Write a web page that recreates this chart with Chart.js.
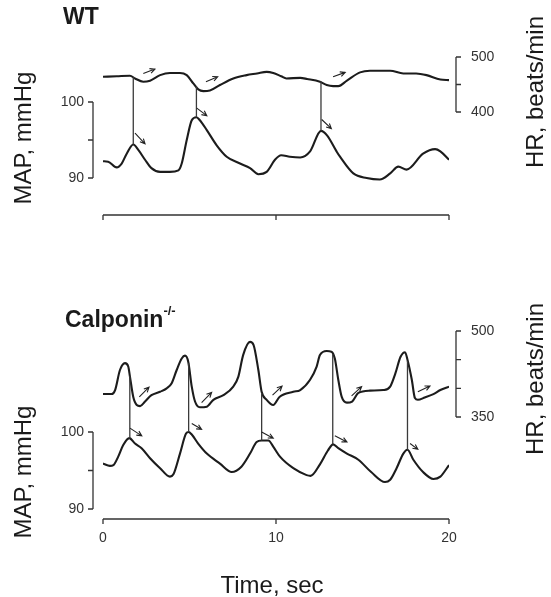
<!DOCTYPE html>
<html>
<head>
<meta charset="utf-8">
<script src="https://cdn.jsdelivr.net/npm/chart.js@4.4.0/dist/chart.umd.min.js"></script>
<style>
  body { margin: 0; background: #fff; }
  #fig { position: relative; width: 551px; height: 597px; font-family: "Liberation Sans", Arial, sans-serif; color: #1a1a1a; }
  #fig canvas { position: absolute; left: 0; }
  .lbl { position: absolute; white-space: nowrap; line-height: 1; }
  .panel { font-weight: bold; font-size: 23px; }
  .panel sup { font-size: 13px; position: relative; top: -3px; }
  .ax { font-size: 24px; transform: translate(-50%, -50%) rotate(-90deg); }
</style>
</head>
<body>
<div id="fig">
  <canvas id="wtChart" width="551" height="290" style="top:0"></canvas>
  <canvas id="koChart" width="551" height="307" style="top:290px"></canvas>

  <div class="lbl panel" style="left:63px;top:5px">WT</div>
  <div class="lbl panel" style="left:65px;top:307px">Calponin<sup>-/-</sup></div>

  <div class="lbl ax" style="left:23px;top:138px">MAP, mmHg</div>
  <div class="lbl ax" style="left:535px;top:92px">HR, beats/min</div>
  <div class="lbl ax" style="left:23px;top:472px">MAP, mmHg</div>
  <div class="lbl ax" style="left:535px;top:379px">HR, beats/min</div>

  <div class="lbl" style="left:272px;top:573px;font-size:24px;transform:translateX(-50%)">Time, sec</div>
</div>

<script>
// ---------- WT ----------
const wtHrTime = [0, 0.8, 1.56, 1.85, 2.33, 2.72, 3.3, 3.87, 4.45, 4.84, 5.22, 5.51, 5.8, 6.18, 6.76, 7.53, 8.3, 8.9, 9.46, 9.84,
                  10.3, 10.6, 11.4, 11.8, 12.54, 12.93, 13.3, 13.6, 14.1, 14.86, 15.43, 16.6, 17.36, 18.1, 18.7, 19.5, 20];
const wtHr = [464, 465, 466, 461, 455, 457, 467, 471, 471, 467, 452, 441, 438, 439, 449, 461, 467, 470, 473, 471,
              465, 461, 462, 460, 455, 449, 447, 447, 457, 472, 475, 475, 470, 470, 467, 459, 458];

const wtMapTime = [0, 0.3, 0.79, 1.08, 1.37, 1.75, 2.04, 2.43, 2.8, 3.3, 3.87, 4.36, 4.55, 4.84, 5.13, 5.4, 5.6, 6.0, 6.57, 7.15,
                   7.92, 8.5, 8.98, 9.46, 9.94, 10.3, 10.8, 11.4, 11.97, 12.6, 12.95, 13.5, 13.7, 14.47, 15.24, 16.0, 16.6,
                   17.07, 17.55, 18.5, 19.2, 19.5, 20];
const wtMap = [92.2, 92.15, 91.4, 91.9, 93.2, 94.4, 93.7, 92.4, 91.3, 90.8, 90.8, 91.0, 91.9, 95.0, 97.6, 98.0, 97.6, 96.3, 94.3, 92.8,
               91.9, 91.3, 90.5, 90.8, 92.4, 93.0, 92.8, 92.7, 93.5, 96.2, 95.6, 93.5, 92.8, 90.6, 90.0, 89.8, 90.6,
               91.5, 91.1, 93.2, 93.8, 93.5, 92.4];

// HR -> MAP connectors and the small arrows [t0, v0, t1, v1]
const wtLinkTime = [1.75, 5.4, 12.6];
const wtLinkHr = [463, 447, 456];
const wtLinkMap = [94.4, 98.0, 96.2];
const wtHrArrows = [[2.33, 470, 3.0, 478], [5.95, 455, 6.63, 464], [13.3, 464, 14.0, 472]];
const wtMapArrows = [[1.85, 95.9, 2.43, 94.5], [5.42, 99.2, 6.0, 98.2], [12.64, 97.7, 13.2, 96.5]];

const wtMapRange = [85.13, 107.5];
const wtHrRange = [212.7, 521.8];
const wtMapTicks = [90, 95, 100];
const wtHrTicks = [400, 450, 500];

// ---------- Calponin -/- ----------
const koHrTime = [0, 0.5, 0.7, 0.98, 1.27, 1.46, 1.56, 1.75, 1.95, 2.14, 2.43, 2.8, 3.3, 3.68, 3.97, 4.26, 4.55, 4.74, 4.93, 5.13,
                  5.32, 5.6, 6.0, 6.38, 6.96, 7.53, 7.82, 8.1, 8.5, 8.7, 8.98, 9.17, 9.46, 9.84, 10.2, 11.0, 11.4, 11.97,
                  12.35, 12.54, 12.93, 13.2, 13.4, 13.6, 13.8, 14.1, 14.4, 14.76, 15.43, 16.2, 16.6, 16.9, 17.2, 17.46,
                  17.6, 17.85, 18.03, 18.2, 18.6, 19.1, 19.5, 20];
const koHr = [390, 390, 397, 432, 444, 438, 420, 385, 371, 369, 377, 388, 394, 400, 409, 432, 452, 457, 446, 403,
              377, 367, 368, 380, 388, 403, 420, 458, 481, 476, 432, 394, 380, 371, 385, 394, 397, 415,
              438, 458, 465, 464, 452, 415, 385, 375, 377, 392, 396, 397, 403, 426, 455, 463,
              450, 415, 383, 380, 384, 390, 397, 403];

const koMapTime = [0, 0.4, 0.6, 0.88, 1.17, 1.52, 1.85, 2.23, 2.72, 3.3, 3.87, 4.07, 4.45, 4.8, 4.95, 5.12, 5.5, 6.0, 6.76, 7.44,
                   8.0, 8.5, 8.88, 9.17, 9.56, 9.84, 10.23, 11.0, 11.77, 12.0, 12.54, 13.0, 13.3, 13.6, 14.1, 14.76, 15.5,
                   16.3, 16.6, 16.97, 17.36, 17.6, 17.94, 18.5, 19.1, 19.5, 20];
const koMap = [95.9, 95.6, 95.7, 96.8, 98.3, 99.2, 98.5, 97.9, 96.6, 95.3, 94.2, 94.5, 97.2, 99.8, 100.0, 99.7, 98.5, 97.2, 95.9, 94.8,
               95.5, 97.2, 98.7, 98.9, 98.9, 98.1, 96.8, 95.3, 94.4, 94.3, 95.8, 97.6, 98.4, 97.9, 97.2, 96.4, 94.8,
               93.5, 93.8, 95.3, 97.2, 97.7, 96.4, 94.8, 93.9, 94.2, 95.7];

const koLinkTime = [1.55, 4.95, 9.17, 13.28, 17.6];
const koLinkHr = [422, 444, 392, 460, 448];
const koLinkMap = [99.2, 100.0, 98.9, 98.4, 97.7];
const koHrArrows = [[2.1, 385, 2.66, 402], [5.7, 375, 6.28, 393], [9.8, 388, 10.35, 404], [14.37, 387, 14.95, 403], [18.2, 394, 18.9, 404]];
const koMapArrows = [[1.56, 100.5, 2.24, 99.5], [5.13, 101.1, 5.7, 100.35], [9.17, 100.0, 9.84, 99.2], [13.4, 99.5, 14.1, 98.7], [17.75, 98.5, 18.2, 97.75]];

const koMapRange = [88.7, 114.55];
const koHrRange = [172.1, 519.2];
const koMapTicks = [90, 95, 100];
const koHrTicks = [350, 400, 450, 500];

const timeTicks = [0, 10, 20];

const FONT = '14px "Liberation Sans", Arial, sans-serif';

function pts(xs, ys) {
  return xs.map((x, i) => ({ x: x, y: ys[i] }));
}

function arrow(ctx, x0, y0, x1, y1) {
  const a = Math.atan2(y1 - y0, x1 - x0), h = 5.5, w = 0.45;
  ctx.beginPath();
  ctx.moveTo(x0, y0);
  ctx.lineTo(x1, y1);
  ctx.moveTo(x1 - h * Math.cos(a - w), y1 - h * Math.sin(a - w));
  ctx.lineTo(x1, y1);
  ctx.lineTo(x1 - h * Math.cos(a + w), y1 - h * Math.sin(a + w));
  ctx.stroke();
}

// bracket-style axis covering only the tick range
function bracket(ctx, scale, ticks, x, dir, labelX, align) {
  const ys = ticks.map(v => scale.getPixelForValue(v));
  ctx.beginPath();
  ctx.moveTo(x, Math.min(...ys));
  ctx.lineTo(x, Math.max(...ys));
  ys.forEach(y => { ctx.moveTo(x, y); ctx.lineTo(x + dir * 5, y); });
  ctx.stroke();
  ctx.textAlign = align;
  ctx.textBaseline = 'middle';
  // only the end ticks get numbers
  [0, ticks.length - 1].forEach(i => ctx.fillText(String(ticks[i]), labelX, ys[i]));
}

function panelDecor(p) {
  return {
    id: 'panelDecor',
    afterDraw(chart) {
      const ctx = chart.ctx, area = chart.chartArea;
      const sx = chart.scales.x, sm = chart.scales.map, sh = chart.scales.hr;
      const px = v => sx.getPixelForValue(v);
      ctx.save();

      ctx.strokeStyle = '#3a3a3a';
      ctx.lineWidth = 1.3;
      p.linkTime.forEach((t, i) => {
        ctx.beginPath();
        ctx.moveTo(px(t), sh.getPixelForValue(p.linkHr[i]));
        ctx.lineTo(px(t), sm.getPixelForValue(p.linkMap[i]));
        ctx.stroke();
      });

      ctx.strokeStyle = '#222';
      ctx.lineWidth = 1.1;
      p.hrArrows.forEach(a => arrow(ctx, px(a[0]), sh.getPixelForValue(a[1]), px(a[2]), sh.getPixelForValue(a[3])));
      p.mapArrows.forEach(a => arrow(ctx, px(a[0]), sm.getPixelForValue(a[1]), px(a[2]), sm.getPixelForValue(a[3])));

      ctx.strokeStyle = '#333';
      ctx.fillStyle = '#333';
      ctx.lineWidth = 1.3;
      ctx.font = FONT;
      const lx = area.left - 10, rx = area.right + 7;
      bracket(ctx, sm, p.mapTicks, lx, -1, lx - 9, 'right');
      bracket(ctx, sh, p.hrTicks, rx, 1, rx + 15, 'left');

      // time axis
      const yb = area.bottom;
      ctx.beginPath();
      ctx.moveTo(px(timeTicks[0]), yb);
      ctx.lineTo(px(timeTicks[timeTicks.length - 1]), yb);
      timeTicks.forEach(t => { ctx.moveTo(px(t), yb); ctx.lineTo(px(t), yb + 5); });
      ctx.stroke();
      if (p.timeLabels) {
        ctx.textAlign = 'center';
        ctx.textBaseline = 'middle';
        timeTicks.forEach(t => ctx.fillText(String(t), px(t), yb + 19));
      }
      ctx.restore();
    }
  };
}

function makePanel(id, hrT, hr, mapT, map, hrRange, mapRange, pad, decor) {
  const trace = {
    borderColor: '#1c1c1c',
    borderWidth: 2.1,
    pointRadius: 0,
    cubicInterpolationMode: 'monotone',
    fill: false
  };
  return new Chart(document.getElementById(id), {
    type: 'line',
    data: {
      datasets: [
        Object.assign({ label: 'HR', data: pts(hrT, hr), yAxisID: 'hr' }, trace),
        Object.assign({ label: 'MAP', data: pts(mapT, map), yAxisID: 'map' }, trace)
      ]
    },
    options: {
      responsive: false,
      animation: false,
      events: [],
      layout: { padding: pad },
      scales: {
        x: { type: 'linear', min: 0, max: 20, display: false },
        map: { type: 'linear', position: 'left', min: mapRange[0], max: mapRange[1], display: false },
        hr: { type: 'linear', position: 'right', min: hrRange[0], max: hrRange[1], display: false }
      },
      plugins: {
        legend: { display: false },
        tooltip: { enabled: false }
      }
    },
    plugins: [panelDecor(decor)]
  });
}

makePanel('wtChart', wtHrTime, wtHr, wtMapTime, wtMap, wtHrRange, wtMapRange,
  { top: 45, bottom: 75, left: 103, right: 102 },
  { linkTime: wtLinkTime, linkHr: wtLinkHr, linkMap: wtLinkMap, hrArrows: wtHrArrows, mapArrows: wtMapArrows,
    mapTicks: wtMapTicks, hrTicks: wtHrTicks, timeLabels: false });

makePanel('koChart', koHrTime, koHr, koMapTime, koMap, koHrRange, koMapRange,
  { top: 30, bottom: 78, left: 103, right: 102 },
  { linkTime: koLinkTime, linkHr: koLinkHr, linkMap: koLinkMap, hrArrows: koHrArrows, mapArrows: koMapArrows,
    mapTicks: koMapTicks, hrTicks: koHrTicks, timeLabels: true });
</script>
</body>
</html>
